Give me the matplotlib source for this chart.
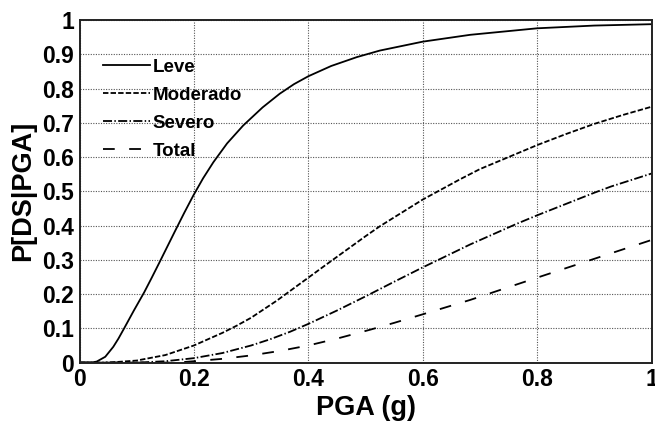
import matplotlib.pyplot as plt

# fragility curves
leve_x = [0.0, 0.02, 0.03, 0.045, 0.059, 0.068, 0.078, 0.095, 0.113, 0.126, 0.139, 0.153, 0.167, 0.183,
          0.199, 0.216, 0.234, 0.258, 0.286, 0.32, 0.35, 0.375, 0.4, 0.44, 0.485, 0.525, 0.6, 0.683, 0.8,
          0.9, 1.0]
leve_y = [0.0, 0.0, 0.003, 0.017, 0.046, 0.07, 0.1, 0.152, 0.205, 0.247, 0.29, 0.337, 0.384, 0.437,
          0.488, 0.538, 0.585, 0.64, 0.692, 0.745, 0.785, 0.813, 0.836, 0.866, 0.892, 0.911, 0.937, 0.957,
          0.976, 0.984, 0.988]

mod_x = [0.0, 0.05, 0.1, 0.15, 0.2, 0.25, 0.275, 0.3, 0.345, 0.4, 0.432, 0.5, 0.525, 0.6, 0.665, 0.7, 0.8,
         0.85, 0.9, 0.95, 1.0]
mod_y = [0.0, 0.0, 0.006, 0.022, 0.05, 0.087, 0.108, 0.131, 0.181, 0.248, 0.287, 0.369, 0.398, 0.476, 0.535,
         0.565, 0.635, 0.667, 0.697, 0.723, 0.747]

sev_x = [0.0, 0.1, 0.15, 0.2, 0.25, 0.3, 0.333, 0.368, 0.4, 0.45, 0.502, 0.55, 0.6, 0.636, 0.683, 0.764, 0.8,
         0.9, 0.929, 1.0]
sev_y = [0.0, 0.0, 0.004, 0.013, 0.028, 0.05, 0.068, 0.09, 0.113, 0.152, 0.195, 0.236, 0.278, 0.307, 0.345,
         0.405, 0.43, 0.496, 0.514, 0.552]

tot_x = [0.0, 0.17, 0.2, 0.25, 0.3, 0.35, 0.4, 0.45, 0.508, 0.55, 0.6, 0.683, 0.8, 0.898, 1.0]
tot_y = [0.0, 0.0, 0.004, 0.011, 0.021, 0.034, 0.05, 0.07, 0.096, 0.116, 0.141, 0.183, 0.248, 0.302, 0.358]

xticks = [0, 0.2, 0.4, 0.6, 0.8, 1]
xtick_labels = ['0', '0.2', '0.4', '0.6', '0.8', '1']
yticks = [0, 0.1, 0.2, 0.3, 0.4, 0.5, 0.6, 0.7, 0.8, 0.9, 1]
ytick_labels = ['0', '0.1', '0.2', '0.3', '0.4', '0.5', '0.6', '0.7', '0.8', '0.9', '1']

plt.rcParams['font.family'] = ['Liberation Sans', 'DejaVu Sans']
plt.rcParams['font.weight'] = 'bold'

fig = plt.figure(figsize=(6.55, 4.21), dpi=100)
ax = fig.add_axes([0.1214, 0.1387, 0.8733, 0.8136])

lw = 1.3
ax.plot(leve_x, leve_y, color='black', lw=lw, label='Leve')
ax.plot(mod_x, mod_y, color='black', lw=lw, dashes=(3, 1.2), label='Moderado')
ax.plot(sev_x, sev_y, color='black', lw=lw, dashes=(5, 1.3, 0.8, 1.3), label='Severo')
ax.plot(tot_x, tot_y, color='black', lw=lw, dashes=(6.5, 8), label='Total')

ax.set_xlim(0, 1)
ax.set_ylim(0, 1)
ax.set_xticks(xticks)
ax.set_xticklabels(xtick_labels)
ax.set_yticks(yticks)
ax.set_yticklabels(ytick_labels)
ax.tick_params(labelsize=16.5, length=0, pad=4)
ax.grid(True, color='#555555', linestyle=(0, (1, 1.3)), linewidth=0.8)
for s in ax.spines.values():
    s.set_linewidth(1.4)
    s.set_color('#222222')

ax.set_xlabel('PGA (g)', fontsize=19.5, fontweight='bold', labelpad=3)
ax.set_ylabel('P[DS|PGA]', fontsize=19.5, fontweight='bold', labelpad=4)

ax.legend(loc='upper left', frameon=False, fontsize=13.5, handlelength=2.5, handletextpad=0.15,
          labelspacing=0.58, borderaxespad=0.0, bbox_to_anchor=(0.028, 0.91))

fig.savefig('out.png', dpi=100)
